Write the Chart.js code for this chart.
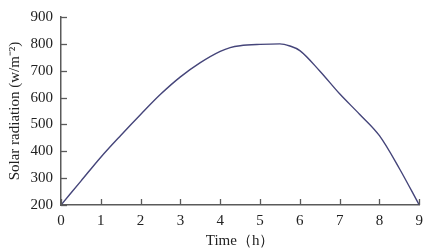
<!DOCTYPE html>
<html><head><meta charset="utf-8">
<script src="https://cdn.jsdelivr.net/npm/chart.js@4/dist/chart.umd.min.js"></script>
<style>html,body{margin:0;padding:0;background:#fff}canvas{display:block}</style>
</head><body><canvas id="c" width="430" height="250"></canvas>
<script>
const hours = [0, 0.5, 1, 1.5, 2, 2.5, 3, 3.5, 4, 4.25, 4.5, 5, 5.5, 5.75, 6, 6.5, 7, 7.5, 8, 8.5, 9];
const radiation = [200, 289, 378, 459, 537, 612, 677, 730, 772, 786, 793, 798, 800, 792, 775, 699, 614, 538, 458, 336, 200];
const xTicks = [0,1,2,3,4,5,6,7,8,9];
const yTicks = [200,300,400,500,600,700,800,900];

const FONT = "'Liberation Serif', 'Times New Roman', serif";
const AXIS = '#5a5a5a';

const innerTicks = {
  id: 'innerTicks',
  afterDraw(chart) {
    const ctx = chart.ctx, x = chart.scales.x, y = chart.scales.y;
    ctx.save();
    ctx.strokeStyle = AXIS; ctx.lineWidth = 1.3;
    xTicks.forEach(v => {
      const px = Math.round(x.getPixelForValue(v)) + 0.5;
      ctx.beginPath(); ctx.moveTo(px, y.bottom); ctx.lineTo(px, y.bottom - 6); ctx.stroke();
    });
    yTicks.forEach(v => {
      const py = Math.round(y.getPixelForValue(v)) + 0.5;
      ctx.beginPath(); ctx.moveTo(x.left, py); ctx.lineTo(x.left + 6, py); ctx.stroke();
    });
    ctx.restore();
  }
};

new Chart(document.getElementById('c'), {
  type: 'line',
  data: { datasets: [{
    data: hours.map((h, i) => ({x: h, y: radiation[i]})),
    borderColor: '#45457a', borderWidth: 1.4, pointRadius: 0,
    cubicInterpolationMode: 'monotone', fill: false
  }]},
  options: {
    responsive: false, animation: false, devicePixelRatio: 1,
    layout: { padding: { top: 7, right: 8, left: 0, bottom: 0 } },
    plugins: { legend: { display: false }, tooltip: { enabled: false } },
    scales: {
      x: {
        type: 'linear', min: 0, max: 9,
        afterBuildTicks: s => { s.ticks = xTicks.map(v => ({value: v})); },
        afterFit: s => { s.height = 45; },
        grid: { display: false, drawTicks: false },
        border: { color: AXIS, width: 1.5 },
        ticks: { color: '#222', font: { family: FONT, size: 15 }, padding: 7, autoSkip: false, maxRotation: 0 },
        title: { display: true, text: 'Time（h）', color: '#222', font: { family: FONT, size: 15 }, padding: { top: 0, bottom: 0 } }
      },
      y: {
        min: 200, max: 900,
        afterBuildTicks: s => { s.ticks = yTicks.map(v => ({value: v})); },
        afterFit: s => { s.width = 61; },
        grid: { display: false, drawTicks: false },
        border: { color: AXIS, width: 1.5 },
        ticks: { color: '#222', font: { family: FONT, size: 15 }, padding: 8, autoSkip: false },
        title: { display: true, text: 'Solar radiation (w/m⁻²)', color: '#222', font: { family: FONT, size: 15 }, padding: { top: 6, bottom: 0 } }
      }
    }
  },
  plugins: [innerTicks]
});
</script>
</body></html>
